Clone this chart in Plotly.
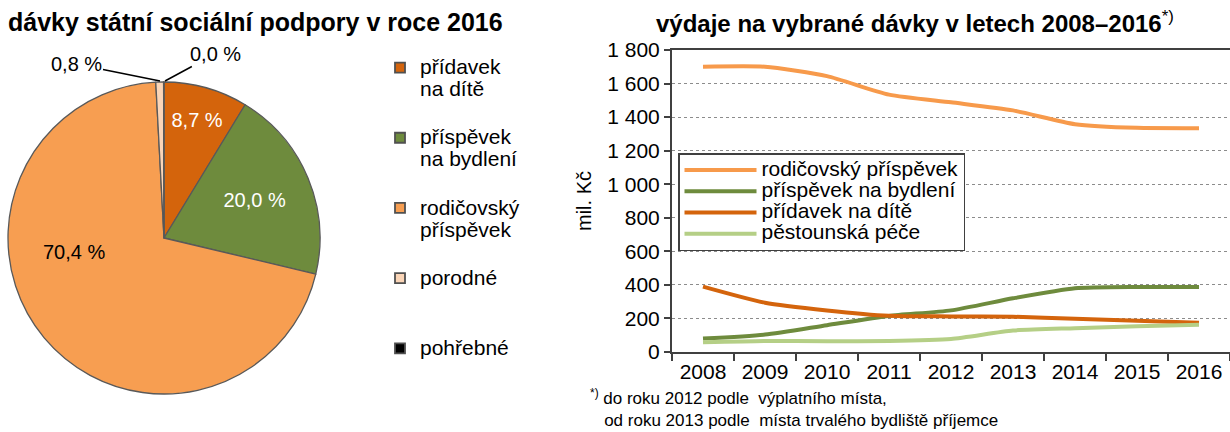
import plotly.graph_objects as go

# ---------------- data ----------------
pie_labels = ["přídavek na dítě", "příspěvek na bydlení", "rodičovský příspěvek", "porodné", "pohřebné"]
pie_legend_lines = [["přídavek", "na dítě"], ["příspěvek", "na bydlení"], ["rodičovský", "příspěvek"],
                    ["porodné", "\u00a0"], ["pohřebné", "\u00a0"]]
pie_values = [8.7, 20.0, 70.4, 0.8, 0.04]
pie_colors = ["#D4640C", "#6E8B3D", "#F79E51", "#FAD5B7", "#000000"]
pie_text_colors = ["white", "white", "black", "black", "black"]

years = [2008, 2009, 2010, 2011, 2012, 2013, 2014, 2015, 2016]
rodicovsky = [1700, 1700, 1644, 1534, 1488, 1440, 1358, 1336, 1334]
bydleni = [80, 104, 160, 215, 248, 320, 380, 388, 388]
pridavek = [390, 294, 248, 216, 212, 210, 198, 186, 174]
pestounska = [58, 66, 64, 66, 78, 128, 142, 154, 162]

line_names = ["rodičovský příspěvek", "příspěvek na bydlení", "přídavek na dítě", "pěstounská péče"]
line_series = [rodicovsky, bydleni, pridavek, pestounska]
line_colors = ["#F79A4B", "#6E8B3D", "#D4640C", "#B5CF86"]

y_ticks = [0, 200, 400, 600, 800, 1000, 1200, 1400, 1600, 1800]

footnote_lines = ["<sup>*)</sup> do roku 2012 podle  výplatního místa,",
                  "   od roku 2013 podle  místa trvalého bydliště příjemce"]

W, H = 1230, 432
FONT = "Liberation Sans, Arial, sans-serif"


def px(x):
    return x / W


def py(y):
    return 1 - y / H


def pct(v):
    return f"{v:.1f} %".replace(".", ",")


def big(s, size):
    return f"<span style='font-size:{size}px'>{s}</span>"


# labels drawn inside the pie for the two slices Plotly places well
inside = [5 <= v < 50 for v in pie_values]
pie_text = [pct(v) if ok else "" for v, ok in zip(pie_values, inside)]
pie_textpos = ["inside" if ok else "none" for ok in inside]

fig = go.Figure()

fig.add_trace(go.Pie(
    labels=pie_labels, values=pie_values, sort=False, direction="clockwise", rotation=0,
    marker=dict(colors=pie_colors, line=dict(color="#595959", width=1.3)),
    text=pie_text, textinfo="text", textposition=pie_textpos, insidetextorientation="horizontal",
    textfont=dict(family=FONT, size=20, color=pie_text_colors),
    domain=dict(x=[px(8), px(320)], y=[py(400), py(76)]),
    showlegend=False, hoverinfo="label+percent",
))

# legend entries for the pie (square markers)
for i, (lines, c) in enumerate(zip(pie_legend_lines, pie_colors)):
    fig.add_trace(go.Scatter(
        x=[None], y=[None], mode="markers", name="<br>".join(big(s, 21) for s in lines),
        marker=dict(symbol="square", size=10, color=c, line=dict(color="#505050", width=1.8)),
        legend="legend", legendgroup=f"g{i}", showlegend=True, hoverinfo="skip",
    ))

for nm, ys, c in zip(line_names, line_series, line_colors):
    fig.add_trace(go.Scatter(
        x=years, y=ys, mode="lines", name=big(nm, 21),
        line=dict(color=c, width=4, shape="spline", smoothing=0.6),
        legend="legend2",
    ))

# big-slice label placed like the original (left part of the slice)
fig.add_annotation(x=px(74), y=py(252), xref="paper", yref="paper", showarrow=False,
                   xanchor="center", yanchor="middle",
                   text=pct(pie_values[2]), font=dict(family=FONT, size=20, color="#000"))

# small-slice callouts
fig.add_annotation(x=px(160), y=py(81), xref="paper", yref="paper",
                   text=pct(pie_values[3]), showarrow=True, arrowhead=0, arrowwidth=1.5,
                   arrowcolor="#000000", ax=-84, ay=-17,
                   font=dict(family=FONT, size=20, color="#000"))
fig.add_annotation(x=px(165), y=py(81), xref="paper", yref="paper",
                   text=pct(round(pie_values[4], 1)), showarrow=True, arrowhead=0, arrowwidth=1.5,
                   arrowcolor="#000000", ax=50, ay=-27,
                   font=dict(family=FONT, size=20, color="#000"))

# titles
fig.add_annotation(x=px(6), y=py(22), xref="paper", yref="paper", xanchor="left", yanchor="middle",
                   text="<b>dávky státní sociální podpory v roce 2016</b>", showarrow=False,
                   font=dict(family=FONT, size=25, color="#000"))
fig.add_annotation(x=px(915), y=py(22), xref="paper", yref="paper", xanchor="center", yanchor="middle",
                   text="<b>výdaje na vybrané dávky v letech 2008–2016</b><sup>*)</sup>", showarrow=False,
                   font=dict(family=FONT, size=24, color="#000"))

# footnote (two lines, one text block)
fig.add_annotation(x=px(588), y=py(431.5), xref="paper", yref="paper", xanchor="left", yanchor="bottom",
                   text="<br>".join(footnote_lines), showarrow=False, align="left",
                   font=dict(family=FONT, size=17, color="#000"))

fig.update_layout(
    width=W, height=H, margin=dict(l=0, r=0, t=0, b=0, autoexpand=False),
    paper_bgcolor="white", plot_bgcolor="white",
    separators=", ",
    font=dict(family=FONT, size=19, color="#000"),
    showlegend=True,
    legend=dict(x=px(380), y=py(50), xanchor="left", yanchor="top",
                font=dict(family=FONT, size=17, color="#000"),
                valign="top", tracegroupgap=23, bgcolor="rgba(0,0,0,0)",
                traceorder="grouped", itemclick=False, itemdoubleclick=False),
    legend2=dict(x=px(678), y=py(153), xanchor="left", yanchor="top",
                 font=dict(family=FONT, size=14, color="#000"),
                 bgcolor="white", bordercolor="#404040", borderwidth=1.5,
                 itemwidth=72, tracegroupgap=0,
                 itemclick=False, itemdoubleclick=False),
    xaxis=dict(domain=[px(672), 1.0], range=[2007.5, 2016.5],
               tickmode="array", tickvals=years, ticktext=[str(y) for y in years],
               ticks="", showgrid=False, zeroline=False,
               showline=True, linecolor="#404040", linewidth=2, mirror=True,
               tickfont=dict(family=FONT, size=21, color="#000"),
               minor=dict(tickmode="linear", tick0=2007.5, dtick=1, ticks="outside",
                          ticklen=7, tickcolor="#404040", tickwidth=1.5, showgrid=False)),
    yaxis=dict(domain=[py(352), py(50)], range=[0, 1800],
               tickmode="array", tickvals=y_ticks, tickformat=",d",
               ticks="outside", ticklen=6, tickcolor="#404040", tickwidth=1.5,
               showgrid=True, gridcolor="#8C8C8C", griddash="dot", gridwidth=1,
               zeroline=False, showline=True, linecolor="#404040", linewidth=2,
               tickfont=dict(family=FONT, size=21, color="#000"),
               title=dict(text="mil. Kč", font=dict(family=FONT, size=20, color="#000"), standoff=10)),
)

fig.write_html("out.html", config={"displayModeBar": False},
               post_script="document.body.style.margin='0';document.body.style.overflow='hidden';")
